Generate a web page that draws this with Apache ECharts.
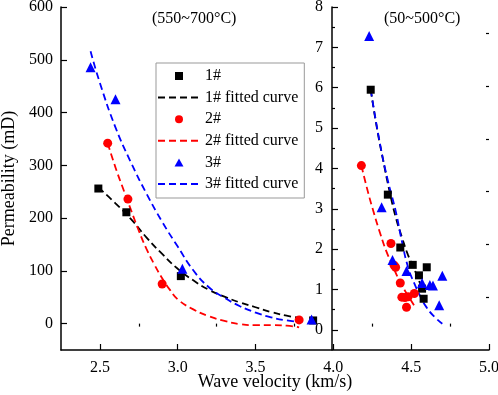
<!DOCTYPE html>
<html>
<head>
<meta charset="utf-8">
<script src="https://cdn.jsdelivr.net/npm/echarts@6/dist/echarts.min.js"></script>
<style>
  html, body {margin: 0; padding: 0; background: #fff;}
  #chart {width: 498px; height: 395px;}
</style>
</head>
<body>
<div id="chart"></div>
<script>
// tick labels
var xTicks = [2.5, 3.0, 3.5, 4.0, 4.5, 5.0];
var xMinor = [2.75, 3.25, 3.75, 4.25, 4.75];
var hiTicks = [0, 100, 200, 300, 400, 500, 600];
var hiMinor = [50, 150, 250, 350, 450, 550];
var loTicks = [0, 1, 2, 3, 4, 5, 6, 7, 8];
var loMinor = [0.5, 1.5, 2.5, 3.5, 4.5, 5.5, 6.5, 7.5];

// 550~700°C, left scale
var hi1 = [[2.49, 256], [2.67, 211], [3.02, 90], [3.87, 6]];
var hi2 = [[2.55, 342], [2.68, 236], [2.90, 75], [3.78, 7]];
var hi3 = [[2.44, 486], [2.60, 425], [3.03, 104], [3.86, 8]];
var hi1Fit = [[2.49, 258], [2.6, 228], [2.7, 198], [2.8, 163], [2.9, 132], [3.0, 104], [3.1, 82], [3.2, 64], [3.3, 51], [3.4, 40], [3.5, 31], [3.6, 22], [3.7, 15], [3.8, 10]];
var hi2Fit = [[2.55, 342], [2.6, 296], [2.65, 255], [2.7, 215], [2.75, 176], [2.8, 141], [2.85, 112], [2.9, 86], [2.95, 64], [3.0, 46], [3.1, 27], [3.2, 14], [3.3, 5], [3.4, -1], [3.5, -3], [3.6, -3], [3.7, -4], [3.78, -7]];
var hi3Fit = [[2.44, 516], [2.5, 456], [2.6, 372], [2.7, 305], [2.8, 246], [2.9, 193], [3.0, 146], [3.1, 101], [3.2, 69], [3.3, 49], [3.4, 33], [3.5, 21], [3.6, 12], [3.7, 6], [3.8, 3]];

// 50~500°C, right scale
var lo1 = [[4.24, 5.95], [4.35, 3.35], [4.43, 2.04], [4.51, 1.61], [4.60, 1.55], [4.55, 1.35], [4.57, 1.02], [4.58, 0.77]];
var lo2 = [[4.18, 4.07], [4.37, 2.14], [4.39, 1.60], [4.40, 1.55], [4.43, 1.16], [4.44, 0.81], [4.46, 0.80], [4.48, 0.82], [4.52, 0.90], [4.47, 0.56]];
var lo3 = [[4.23, 7.28], [4.31, 3.04], [4.38, 1.73], [4.47, 1.46], [4.57, 1.16], [4.62, 1.11], [4.64, 1.10], [4.70, 1.34], [4.68, 0.61]];
var lo1Fit = [[4.24, 5.95], [4.28, 5.0], [4.32, 4.2], [4.36, 3.45], [4.40, 2.8], [4.44, 2.3], [4.48, 1.85], [4.52, 1.5], [4.55, 1.22], [4.57, 1.0]];
var lo2Fit = [[4.18, 4.07], [4.22, 3.45], [4.26, 2.9], [4.30, 2.4], [4.34, 1.95], [4.38, 1.6], [4.42, 1.25], [4.46, 0.97], [4.50, 0.72], [4.52, 0.6]];
var lo3Fit = [[4.24, 5.95], [4.30, 4.6], [4.35, 3.7], [4.40, 2.95], [4.44, 2.2], [4.48, 1.55], [4.52, 1.15], [4.56, 0.82], [4.60, 0.55], [4.65, 0.32], [4.70, 0.15]];

var font = 'Liberation Serif';
var names = ['1#', '1# fitted curve', '2#', '2# fitted curve', '3#', '3# fitted curve'];
var colors = ['#000000', '#ff0000', '#0000ff'];
var marks = [['rect', 8], ['circle', 9], ['triangle', 10]];
// legend icons as paths so they keep their aspect
var legendIcons = ['path://M0,0L1,0L1,1L0,1Z', 'circle', 'path://M0.5,0L1,0.9L0,0.9Z'];

var chart = echarts.init(document.getElementById('chart'));

function majorAxis(min, max, ticks) {
  return {
    type: 'value', min: min, max: max,
    splitLine: {show: false},
    axisLine: {show: true, onZero: false, lineStyle: {color: '#000', width: 1.5}},
    axisTick: {show: true, inside: true, length: 6, customValues: ticks, lineStyle: {color: '#000', width: 1.2}},
    axisLabel: {customValues: ticks, color: '#000', fontFamily: font, fontSize: 16}
  };
}
function minorAxis(min, max, ticks) {
  return {
    type: 'value', min: min, max: max,
    splitLine: {show: false},
    axisLine: {show: false},
    axisTick: {show: true, inside: true, length: 3, customValues: ticks, lineStyle: {color: '#000', width: 1.2}},
    axisLabel: {show: false}
  };
}

var xMain = majorAxis(2.25, 5, xTicks);
xMain.axisLabel.margin = 10;
xMain.axisLabel.formatter = function (v) { return v.toFixed(1); };
xMain.name = 'Wave velocity (km/s)';
xMain.nameLocation = 'middle';
xMain.nameGap = 23;
xMain.nameMoveOverlap = false;
xMain.nameTextStyle = {color: '#000', fontFamily: font, fontSize: 18};

var yHi = majorAxis(-50, 600, hiTicks);
yHi.axisLabel.margin = 8;
yHi.name = 'Permeability (mD)';
yHi.nameLocation = 'middle';
yHi.nameGap = 43;
yHi.nameMoveOverlap = false;
yHi.nameTextStyle = {color: '#000', fontFamily: font, fontSize: 18};

var yLo = majorAxis(-0.5, 8, loTicks);
yLo.position = 'left';
yLo.offset = -271;
yLo.axisLabel.margin = 9;

var yHiMinor = minorAxis(-50, 600, hiMinor);
var yLoMinor = minorAxis(-0.5, 8, loMinor);
yLoMinor.position = 'left';
yLoMinor.offset = -271;

var series = [];
var legendData = [];
[[hi1, lo1, hi1Fit, lo1Fit], [hi2, lo2, hi2Fit, lo2Fit], [hi3, lo3, hi3Fit, lo3Fit]].forEach(function (g, i) {
  var pts = names[i * 2], fit = names[i * 2 + 1];
  legendData.push({name: pts, icon: legendIcons[i]});
  legendData.push({name: fit, itemStyle: {opacity: 0}});
  [[g[0], 0], [g[1], 1]].forEach(function (p) {
    series.push({
      name: pts, type: 'scatter', yAxisIndex: p[1], data: p[0],
      symbol: marks[i][0], symbolSize: marks[i][1],
      itemStyle: {color: colors[i], opacity: 1}, z: 3
    });
  });
  [[g[2], 0], [g[3], 1]].forEach(function (p) {
    series.push({
      name: fit, type: 'line', yAxisIndex: p[1], data: p[0],
      smooth: true, symbol: 'none', showSymbol: false,
      lineStyle: {color: colors[i], width: 1.8, type: [7, 4]},
      itemStyle: {color: colors[i]}, z: 2
    });
  });
});

chart.setOption({
  animation: false,
  backgroundColor: '#fff',
  title: [
    {text: '(550~700°C)', left: 152, top: 11, padding: 0, textStyle: {color: '#000', fontFamily: font, fontSize: 16, fontWeight: 'normal'}},
    {text: '(50~500°C)', left: 384, top: 11, padding: 0, textStyle: {color: '#000', fontFamily: font, fontSize: 16, fontWeight: 'normal'}}
  ],
  legend: {
    data: legendData,
    orient: 'vertical',
    left: 156, top: 63,
    itemWidth: 42, itemHeight: 8, itemGap: 3.6,
    symbolKeepAspect: true,
    padding: [4, 6, 5, 1],
    borderColor: '#999', borderWidth: 1,
    textStyle: {color: '#000', fontFamily: font, fontSize: 16, lineHeight: 18}
  },
  grid: {left: 61, right: 9, top: 7, bottom: 45, containLabel: false, outerBoundsMode: 'none'},
  xAxis: [xMain, minorAxis(2.25, 5, xMinor)],
  yAxis: [yHi, yLo, yHiMinor, yLoMinor],
  series: series
});
</script>
</body>
</html>
